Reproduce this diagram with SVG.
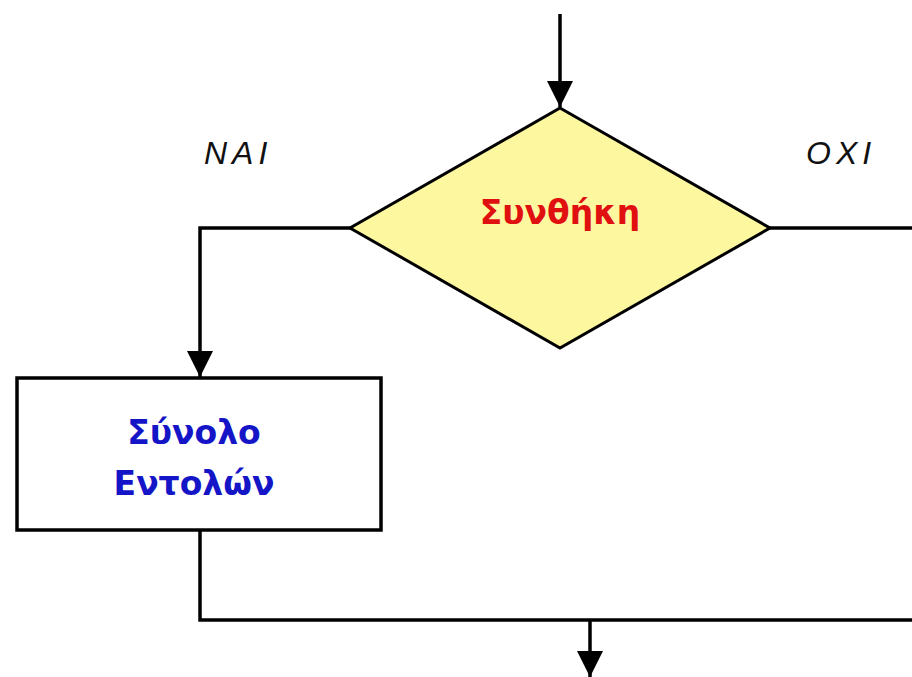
<svg xmlns="http://www.w3.org/2000/svg" width="912" height="677" viewBox="0 0 912 677">
<style>
.ln{fill:none;stroke:#000;stroke-width:3.5}
.lbl{font-family:"Liberation Sans","DejaVu Sans",sans-serif;font-style:italic;font-size:32px;letter-spacing:5px;fill:#111}
.gr{font-family:"DejaVu Sans","Noto Sans",sans-serif;font-size:33px;font-weight:bold;text-anchor:middle}
</style>
<defs>
<marker id="arr" markerUnits="userSpaceOnUse" markerWidth="28" markerHeight="28" refX="26" refY="13" orient="auto" viewBox="0 0 28 26">
<path d="M0,0 L26,13 L0,26 Z" fill="#000"/>
</marker>
</defs>
<rect width="912" height="677" fill="#fff"/>
<g id="connectors">
<line class="ln" x1="560" y1="14" x2="560" y2="107" marker-end="url(#arr)"/>
<polyline class="ln" points="351,228 200,228 200,377" marker-end="url(#arr)"/>
<polyline class="ln" points="769,228 912,228"/>
<polyline class="ln" points="200,530 200,620 912,620"/>
<line class="ln" x1="590" y1="620" x2="590" y2="677" marker-end="url(#arr)"/>
</g>
<g id="decision">
<polygon points="560,108 770,228 560,348 350,228" fill="#fdf7a0" stroke="#000" stroke-width="3"/>
<text class="gr" x="560" y="224" fill="#e01010">Συνθήκη</text>
</g>
<g id="process">
<rect x="17" y="378" width="364" height="152" fill="#fff" stroke="#000" stroke-width="3.5"/>
<text class="gr" x="194" y="444" fill="#1515c8">Σύνολο</text>
<text class="gr" x="194" y="495" fill="#1515c8">Εντολών</text>
</g>
<g id="labels">
<text class="lbl" x="204" y="164">NAI</text>
<text class="lbl" x="806" y="164">OXI</text>
</g>
</svg>
